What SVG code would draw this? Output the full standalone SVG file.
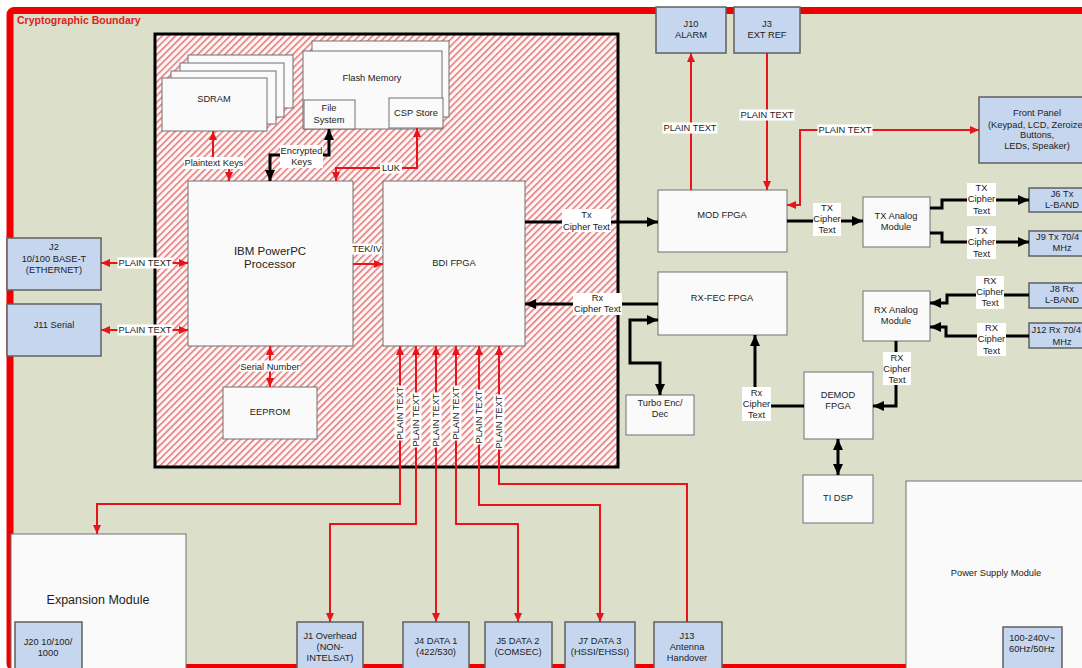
<svg xmlns="http://www.w3.org/2000/svg" width="1082" height="668" viewBox="0 0 1082 668">
<style>
.t{font-family:"Liberation Sans",Arial,sans-serif;font-size:9.3px;fill:#222;text-anchor:middle}
.s{text-anchor:start}
.big{font-size:11.5px}
.xl{font-size:12.5px}
.box{fill:#fafafa;stroke:#707070;stroke-width:1}
.jb{fill:#c6d6ee;stroke:#606060;stroke-width:1.5}
.lb{fill:#fff}
.r{stroke:#e8141b;stroke-width:2;fill:none}
.k{stroke:#000;stroke-width:3;fill:none}
.ra{marker-end:url(#ar)}
.rb{marker-start:url(#ar);marker-end:url(#ar)}
.rs{marker-start:url(#ar)}
.ka{marker-end:url(#ak)}
.kb{marker-start:url(#ak);marker-end:url(#ak)}
</style>
<defs>
<pattern id="hatch" width="4.8" height="4.8" patternUnits="userSpaceOnUse" patternTransform="rotate(45)">
<rect width="4.8" height="4.8" fill="#fdf7f7"/>
<line x1="0.8" y1="0" x2="0.8" y2="4.8" stroke="#e46a6a" stroke-width="1.4"/>
</pattern>
<marker id="ar" markerUnits="userSpaceOnUse" markerWidth="9" markerHeight="8" refX="9" refY="4" orient="auto-start-reverse"><path d="M0,0 L9,4 L0,8 z" fill="#e8141b"/></marker>
<marker id="ak" markerUnits="userSpaceOnUse" markerWidth="11" markerHeight="10" refX="11" refY="5" orient="auto-start-reverse"><path d="M0,0 L11,5 L0,10 z" fill="#000"/></marker>
</defs>

<rect x="10" y="10.5" width="1100" height="657" rx="4" fill="#dcdfca" stroke="#ee0000" stroke-width="7"/>
<text x="17" y="24" style="font-family:'Liberation Sans',Arial,sans-serif;font-size:10.5px;font-weight:bold;fill:#e02020">Cryptographic Boundary</text>

<rect x="155" y="34" width="463" height="433" fill="url(#hatch)" stroke="#000" stroke-width="3"/>

<g id="sdram">
<rect class="box" x="188" y="55" width="105" height="53"/>
<rect class="box" x="180" y="63" width="104" height="54"/>
<rect class="box" x="171" y="71" width="105" height="53"/>
<rect class="box" x="162" y="78" width="105" height="53"/>
<text class="t" x="214" y="102">SDRAM</text>
</g>
<g id="flash">
<rect class="box" x="312" y="41" width="137" height="76"/>
<rect class="box" x="303" y="51" width="139" height="78"/>
<text class="t" x="372" y="81">Flash Memory</text>
</g>
<g id="filesystem">
<rect class="box" x="304" y="100" width="51" height="29"/>
<text class="t" x="329" y="111">File</text>
<text class="t" x="329" y="123">System</text>
</g>
<g id="cspstore">
<rect class="box" x="389" y="98" width="54" height="30"/>
<text class="t" x="416" y="116">CSP Store</text>
</g>
<g id="processor">
<rect class="box" x="188" y="181" width="165" height="165"/>
<text class="t big" x="270" y="255">IBM PowerPC</text>
<text class="t big" x="270" y="268">Processor</text>
</g>
<g id="bdi">
<rect class="box" x="383" y="181" width="142" height="165"/>
<text class="t" x="454" y="266">BDI FPGA</text>
</g>
<g id="eeprom">
<rect class="box" x="223" y="387" width="94" height="52"/>
<text class="t" x="270" y="415">EEPROM</text>
</g>
<g id="j2">
<rect class="jb" x="7" y="238" width="94" height="52"/>
<text class="t" x="54" y="250">J2</text>
<text class="t" x="54" y="261.5">10/100 BASE-T</text>
<text class="t" x="54" y="273">(ETHERNET)</text>
</g>
<g id="j11">
<rect class="jb" x="7" y="304" width="94" height="52"/>
<text class="t" x="54" y="328">J11 Serial</text>
</g>
<g id="j10">
<rect class="jb" x="656" y="7" width="70" height="46"/>
<text class="t" x="691" y="27">J10</text>
<text class="t" x="691" y="38">ALARM</text>
</g>
<g id="j3">
<rect class="jb" x="734" y="7" width="66" height="46"/>
<text class="t" x="767" y="27">J3</text>
<text class="t" x="767" y="38">EXT REF</text>
</g>
<g id="frontpanel">
<rect class="jb" x="979" y="97" width="120" height="66"/>
<text class="t" x="1037" y="116">Front Panel</text>
<text class="t s" x="988" y="127.6">(Keypad, LCD, Zeroize</text>
<text class="t" x="1037" y="138.3">Buttons,</text>
<text class="t" x="1037" y="149.3">LEDs, Speaker)</text>
</g>
<g id="modfpga">
<rect class="box" x="658" y="190" width="129" height="62"/>
<text class="t" x="722" y="218">MOD FPGA</text>
</g>
<g id="rxfec">
<rect class="box" x="658" y="272" width="129" height="63"/>
<text class="t" x="722" y="301">RX-FEC FPGA</text>
</g>
<g id="turbo">
<rect class="box" x="626" y="395" width="68" height="40"/>
<text class="t" x="660" y="406">Turbo Enc/</text>
<text class="t" x="660" y="417">Dec</text>
</g>
<g id="txanalog">
<rect class="box" x="863" y="197" width="67" height="50"/>
<text class="t" x="896" y="219">TX Analog</text>
<text class="t" x="896" y="230">Module</text>
</g>
<g id="rxanalog">
<rect class="box" x="863" y="291" width="67" height="50"/>
<text class="t" x="896" y="313">RX Analog</text>
<text class="t" x="896" y="324">Module</text>
</g>
<g id="j6">
<rect class="jb" x="1029" y="188" width="70" height="24"/>
<text class="t" x="1062" y="197">J6 Tx</text>
<text class="t" x="1062" y="208">L-BAND</text>
</g>
<g id="j9">
<rect class="jb" x="1029" y="231" width="70" height="25"/>
<text class="t s" x="1036" y="240">J9 Tx 70/4</text>
<text class="t" x="1062" y="251">MHz</text>
</g>
<g id="j8">
<rect class="jb" x="1029" y="283" width="70" height="25"/>
<text class="t" x="1062" y="292">J8 Rx</text>
<text class="t" x="1062" y="303">L-BAND</text>
</g>
<g id="j12">
<rect class="jb" x="1029" y="323" width="70" height="25"/>
<text class="t s" x="1031.5" y="333">J12 Rx 70/4</text>
<text class="t" x="1062" y="345">MHz</text>
</g>
<g id="demod">
<rect class="box" x="804" y="372" width="69" height="67"/>
<text class="t" x="838" y="397.5">DEMOD</text>
<text class="t" x="838" y="408.5">FPGA</text>
</g>
<g id="tidsp">
<rect class="box" x="803" y="475" width="70" height="48"/>
<text class="t" x="838" y="501">TI DSP</text>
</g>
<g id="powersupply">
<rect class="box" x="906" y="481" width="200" height="200"/>
<text class="t" x="996" y="576">Power Supply Module</text>
</g>
<g id="power">
<rect class="jb" x="1003" y="627" width="59" height="50"/>
<text class="t" x="1032" y="641">100-240V~</text>
<text class="t" x="1032" y="652">60Hz/50Hz</text>
</g>
<g id="expansion">
<rect class="box" x="11" y="534" width="175" height="140"/>
<text class="t xl" x="98" y="604">Expansion Module</text>
</g>
<g id="j20">
<rect class="jb" x="15" y="622" width="67" height="50"/>
<text class="t" x="48" y="645">J20 10/100/</text>
<text class="t" x="48" y="655.5">1000</text>
</g>
<g id="j1">
<rect class="jb" x="297" y="622" width="66" height="50"/>
<text class="t" x="330" y="639">J1 Overhead</text>
<text class="t" x="330" y="650">(NON-</text>
<text class="t" x="330" y="661">INTELSAT)</text>
</g>
<g id="j4">
<rect class="jb" x="403" y="622" width="66" height="50"/>
<text class="t" x="436" y="644">J4 DATA 1</text>
<text class="t" x="436" y="655">(422/530)</text>
</g>
<g id="j5">
<rect class="jb" x="485" y="622" width="67" height="50"/>
<text class="t" x="518" y="644">J5 DATA 2</text>
<text class="t" x="518" y="655">(COMSEC)</text>
</g>
<g id="j7">
<rect class="jb" x="565" y="622" width="70" height="50"/>
<text class="t" x="600" y="644">J7 DATA 3</text>
<text class="t" x="600" y="655">(HSSI/EHSSI)</text>
</g>
<g id="j13">
<rect class="jb" x="654" y="622" width="68" height="50"/>
<text class="t" x="687" y="639">J13</text>
<text class="t" x="687" y="650">Antenna</text>
<text class="t" x="687" y="661">Handover</text>
</g>

<g id="connectors">
<path class="r rb" d="M101,263 H188"/>
<path class="r rb" d="M101,330 H188"/>
<path class="r rb" d="M270,346 V387"/>
<path class="r rb" d="M213,131 V160 H229 V181"/>
<path class="r rb" d="M417,128 V168 H336 V181"/>
<path class="r ra" d="M353,264 H383"/>
<path class="r ra" d="M691,190 V53"/>
<path class="r ra" d="M767,53 V190"/>
<path class="r rb" d="M787,205 H800 V130 H979"/>
<path class="r rb" d="M400,346 V504 H97 V534"/>
<path class="r rb" d="M416,346 V524 H330 V622"/>
<path class="r rb" d="M436,346 V622"/>
<path class="r rb" d="M456,346 V524 H518 V622"/>
<path class="r rb" d="M479,346 V505 H600 V622"/>
<path class="r rs" d="M499,346 V484 H687 V622"/>
<path class="k kb" d="M329,129 V155 H270 V181"/>
<path class="k ka" d="M525,222 H658"/>
<path class="k ka" d="M658,304 H525"/>
<path class="k kb" d="M658,320 H630 V363 H660 V395"/>
<path class="k ka" d="M787,221 H863"/>
<path class="k ka" d="M930,208 H942 V200 H1029"/>
<path class="k ka" d="M930,233 H942 V242 H1029"/>
<path class="k ka" d="M1029,295 H947 V303 H930"/>
<path class="k ka" d="M1029,336 H946 V327 H930"/>
<path class="k ka" d="M896,341 V406 H873"/>
<path class="k ka" d="M804,406 H755 V335"/>
<path class="k kb" d="M838,439 V475"/>

<rect class="lb" x="117.5" y="257.5" width="55" height="11"/>
<text class="t" x="145" y="266.3">PLAIN TEXT</text>
<rect class="lb" x="117.5" y="324.5" width="55" height="11"/>
<text class="t" x="145" y="333.3">PLAIN TEXT</text>
<rect class="lb" x="240" y="360.5" width="60" height="11"/>
<text class="t" x="270" y="369.5">Serial Number</text>
<rect class="lb" x="184" y="157" width="60" height="12"/>
<text class="t" x="214" y="166.3">Plaintext Keys</text>
<rect class="lb" x="280" y="145" width="43" height="23"/>
<text class="t" x="301.5" y="154">Encrypted</text>
<text class="t" x="301.5" y="165">Keys</text>
<rect class="lb" x="380" y="162.5" width="22" height="11"/>
<text class="t" x="391" y="171.3">LUK</text>
<rect class="lb" x="352" y="243.5" width="30" height="11"/>
<text class="t" x="367" y="252.3">TEK/IV</text>
<rect class="lb" x="562" y="209" width="49" height="23"/>
<text class="t" x="586.5" y="218.3">Tx</text>
<text class="t" x="586.5" y="230">Cipher Text</text>
<rect class="lb" x="573" y="293" width="49" height="22"/>
<text class="t" x="597.5" y="301.3">Rx</text>
<text class="t" x="597.5" y="312.3">Cipher Text</text>
<rect class="lb" x="662.5" y="122.5" width="55" height="11"/>
<text class="t" x="690" y="131.3">PLAIN TEXT</text>
<rect class="lb" x="739.5" y="109.5" width="55" height="11"/>
<text class="t" x="767" y="118.3">PLAIN TEXT</text>
<rect class="lb" x="817.5" y="124.5" width="55" height="11"/>
<text class="t" x="845" y="133.3">PLAIN TEXT</text>
<rect class="lb" x="813" y="203" width="28" height="33"/>
<text class="t" x="827" y="211.3">TX</text>
<text class="t" x="827" y="222.3">Cipher</text>
<text class="t" x="827" y="233.3">Text</text>
<rect class="lb" x="967" y="183" width="29" height="33"/>
<text class="t" x="981.5" y="191.3">TX</text>
<text class="t" x="981.5" y="202.3">Cipher</text>
<text class="t" x="981.5" y="213.8">Text</text>
<rect class="lb" x="967" y="226" width="29" height="33"/>
<text class="t" x="981.5" y="234.3">TX</text>
<text class="t" x="981.5" y="245.3">Cipher</text>
<text class="t" x="981.5" y="257">Text</text>
<rect class="lb" x="976" y="276" width="28" height="33"/>
<text class="t" x="990" y="283.5">RX</text>
<text class="t" x="990" y="295">Cipher</text>
<text class="t" x="990" y="306.3">Text</text>
<rect class="lb" x="977" y="323" width="29" height="33"/>
<text class="t" x="991.5" y="330.5">RX</text>
<text class="t" x="991.5" y="342">Cipher</text>
<text class="t" x="991.5" y="353.5">Text</text>
<rect class="lb" x="883" y="352" width="28" height="33"/>
<text class="t" x="897" y="360.5">RX</text>
<text class="t" x="897" y="371.5">Cipher</text>
<text class="t" x="897" y="383">Text</text>
<rect class="lb" x="742" y="387" width="29" height="34"/>
<text class="t" x="756.5" y="395.5">Rx</text>
<text class="t" x="756.5" y="407">Cipher</text>
<text class="t" x="756.5" y="418.3">Text</text>
<g transform="translate(400,413)"><rect class="lb" x="-27.5" y="-5.5" width="55" height="11" transform="rotate(-90)"/><text class="t" y="3.3" transform="rotate(-90)">PLAIN TEXT</text></g>
<g transform="translate(416,420)"><rect class="lb" x="-27.5" y="-5.5" width="55" height="11" transform="rotate(-90)"/><text class="t" y="3.3" transform="rotate(-90)">PLAIN TEXT</text></g>
<g transform="translate(436,420)"><rect class="lb" x="-27.5" y="-5.5" width="55" height="11" transform="rotate(-90)"/><text class="t" y="3.3" transform="rotate(-90)">PLAIN TEXT</text></g>
<g transform="translate(456,413)"><rect class="lb" x="-27.5" y="-5.5" width="55" height="11" transform="rotate(-90)"/><text class="t" y="3.3" transform="rotate(-90)">PLAIN TEXT</text></g>
<g transform="translate(479,417)"><rect class="lb" x="-27.5" y="-5.5" width="55" height="11" transform="rotate(-90)"/><text class="t" y="3.3" transform="rotate(-90)">PLAIN TEXT</text></g>
<g transform="translate(499,422)"><rect class="lb" x="-27.5" y="-5.5" width="55" height="11" transform="rotate(-90)"/><text class="t" y="3.3" transform="rotate(-90)">PLAIN TEXT</text></g>
</g>
</svg>
